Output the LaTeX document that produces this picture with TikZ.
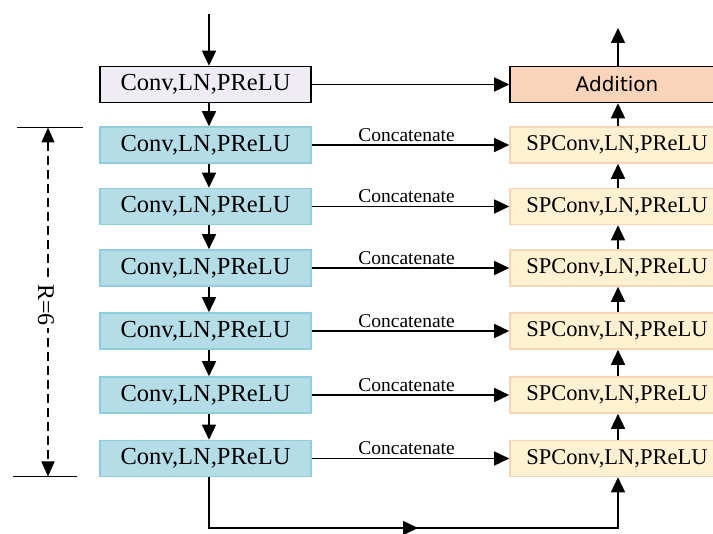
\documentclass[tikz,border=0pt]{standalone}
\usepackage{fontspec}
\setmainfont{Liberation Serif}
\newfontfamily\addfont{DejaVu Sans}
\usetikzlibrary{arrows.meta}
\definecolor{topfill}{HTML}{EFEDF3}
\definecolor{bluefill}{HTML}{B5DDE8}
\definecolor{blueline}{HTML}{92CDDC}
\definecolor{spfill}{HTML}{FFF1D2}
\definecolor{spline}{HTML}{F9D3B5}
\definecolor{addfill}{HTML}{F8D5BA}
\tikzset{
  arr/.style={line width=1.6pt,-{Triangle[length=15pt,width=14pt]}},
  plain/.style={line width=1.6pt},
  boxbase/.style={minimum width=211pt,minimum height=36pt,inner sep=0pt,line width=1.6pt},
  topbox/.style={boxbase,draw=black,fill=topfill,font=\fontsize{24.5}{26}\selectfont},
  bluebox/.style={boxbase,draw=blueline,fill=bluefill,font=\fontsize{24.5}{26}\selectfont},
  spbox/.style={boxbase,minimum width=214pt,draw=spline,fill=spfill,font=\fontsize{22.5}{24}\selectfont},
  addbox/.style={boxbase,minimum width=214pt,draw=black,fill=addfill,font=\addfont\fontsize{20}{22}\selectfont},
  catlabel/.style={font=\fontsize{19.5}{21}\selectfont,inner sep=0pt,anchor=south,yshift=3pt},
}
\begin{document}
\begin{tikzpicture}[x=1pt,y=-1pt]
\useasboundingbox (0,0) rectangle (713,534);
\clip (0,0) rectangle (713,534);
% left column
\node[topbox] (t) at (205.5,84.5) {Conv,LN,PReLU};
\node[bluebox] (b1) at (205.5,145) {Conv,LN,PReLU};
\node[bluebox] (b2) at (205.5,206.5) {Conv,LN,PReLU};
\node[bluebox] (b3) at (205.5,268) {Conv,LN,PReLU};
\node[bluebox] (b4) at (205.5,331) {Conv,LN,PReLU};
\node[bluebox] (b5) at (205.5,395) {Conv,LN,PReLU};
\node[bluebox] (b6) at (205.5,458.5) {Conv,LN,PReLU};
% right column
\node[addbox] (a) at (617,84.5) {Addition};
\node[spbox] (s1) at (617,145) {SPConv,LN,PReLU};
\node[spbox] (s2) at (617,206.5) {SPConv,LN,PReLU};
\node[spbox] (s3) at (617,268) {SPConv,LN,PReLU};
\node[spbox] (s4) at (617,331) {SPConv,LN,PReLU};
\node[spbox] (s5) at (617,395) {SPConv,LN,PReLU};
\node[spbox] (s6) at (617,458.5) {SPConv,LN,PReLU};
% input / output
\coordinate (in) at (209,14);
\coordinate (out) at (618,28);
\draw[arr] (in) -- ([xshift=3.5pt]t.north);
\draw[arr] ([xshift=1pt]a.north) -- (out);
\draw[arr] (t.east) -- (a.west);
% down arrows
\draw[arr] ([xshift=3.5pt]t.south) -- ([xshift=3.5pt]b1.north);
\draw[arr] ([xshift=3.5pt]b1.south) -- ([xshift=3.5pt]b2.north);
\draw[arr] ([xshift=3.5pt]b2.south) -- ([xshift=3.5pt]b3.north);
\draw[arr] ([xshift=3.5pt]b3.south) -- ([xshift=3.5pt]b4.north);
\draw[arr] ([xshift=3.5pt]b4.south) -- ([xshift=3.5pt]b5.north);
\draw[arr] ([xshift=3.5pt]b5.south) -- ([xshift=3.5pt]b6.north);
% up arrows
\draw[arr] ([xshift=1pt]s1.north) -- ([xshift=1pt]a.south);
\draw[arr] ([xshift=1pt]s2.north) -- ([xshift=1pt]s1.south);
\draw[arr] ([xshift=1pt]s3.north) -- ([xshift=1pt]s2.south);
\draw[arr] ([xshift=1pt]s4.north) -- ([xshift=1pt]s3.south);
\draw[arr] ([xshift=1pt]s5.north) -- ([xshift=1pt]s4.south);
\draw[arr] ([xshift=1pt]s6.north) -- ([xshift=1pt]s5.south);
% concatenate arrows
\draw[arr] (b1.east) -- node[catlabel,pos=0.48] {Concatenate} (s1.west);
\draw[arr] (b2.east) -- node[catlabel,pos=0.48] {Concatenate} (s2.west);
\draw[arr] (b3.east) -- node[catlabel,pos=0.48] {Concatenate} (s3.west);
\draw[arr] (b4.east) -- node[catlabel,pos=0.48] {Concatenate} (s4.west);
\draw[arr] (b5.east) -- node[catlabel,pos=0.48] {Concatenate} (s5.west);
\draw[arr] (b6.east) -- node[catlabel,pos=0.48] {Concatenate} (s6.west);
% bottom skip
\coordinate (bl) at (209,528);
\coordinate (br) at (618,528);
\coordinate (bm) at (418,528);
\draw[arr] ([xshift=3.5pt]b6.south) -- (bl) -- (br) -- ([xshift=1pt]s6.south);
\draw[arr] (bl) -- (bm);
% dimension R=6
\coordinate (d1a) at (17,127.5);
\coordinate (d1b) at (83,127.5);
\coordinate (d2a) at (13,476.5);
\coordinate (d2b) at (77,476.5);
\coordinate (dt) at (48,127.5);
\coordinate (db) at (48,476.5);
\draw[plain] (d1a) -- (d1b);
\draw[plain] (d2a) -- (d2b);
\draw[arr,{Triangle[length=15pt,width=13pt]}-{Triangle[length=15pt,width=13pt]},dash pattern=on 9pt off 5pt] (dt) -- (db);
\node[fill=white,inner sep=2pt,rotate=-90,font=\fontsize{24}{26}\selectfont] (r) at (46,305) {R=6};
\end{tikzpicture}
\end{document}
